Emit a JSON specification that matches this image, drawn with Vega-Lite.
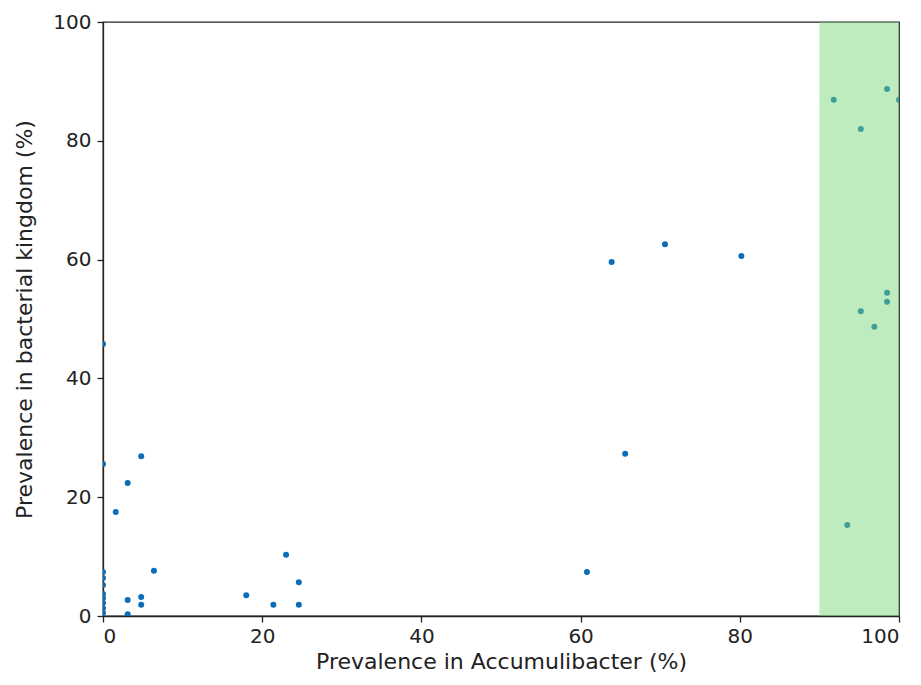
{
  "$schema": "https://vega.github.io/schema/vega-lite/v6.json",
  "width": 796,
  "height": 594,
  "autosize": {"type": "none"},
  "padding": {"left": 103, "top": 22, "right": 22, "bottom": 69},
  "background": "white",
  "config": {
    "view": {"stroke": "#222", "strokeWidth": 1.3},
    "axis": {
      "grid": false,
      "domainColor": "#222",
      "domainWidth": 1.3,
      "tickColor": "#222",
      "tickSize": 6,
      "tickWidth": 1.3,
      "labelFont": "DejaVu Sans",
      "labelFontSize": 20,
      "labelColor": "#222",
      "titleFont": "DejaVu Sans",
      "titleFontSize": 22,
      "titleFontWeight": "normal",
      "titleColor": "#222"
    }
  },
  "datasets": {
    "pts": [
      {"x": 0, "y": 45.8}, {"x": 0, "y": 25.6}, {"x": 4.8, "y": 26.9}, {"x": 3.1, "y": 22.4},
      {"x": 1.6, "y": 17.5}, {"x": 6.4, "y": 7.6},
      {"x": 0, "y": 7.4}, {"x": 0, "y": 6.4}, {"x": 0, "y": 5.2}, {"x": 0, "y": 3.7},
      {"x": 0, "y": 3.0}, {"x": 0, "y": 2.2}, {"x": 0, "y": 1.3}, {"x": 0, "y": 0.5},
      {"x": 3.1, "y": 2.7}, {"x": 4.8, "y": 3.2}, {"x": 4.8, "y": 1.9}, {"x": 3.1, "y": 0.3},
      {"x": 18.0, "y": 3.5}, {"x": 21.4, "y": 1.9}, {"x": 23.0, "y": 10.3},
      {"x": 24.6, "y": 5.7}, {"x": 24.6, "y": 1.9},
      {"x": 60.8, "y": 7.4}, {"x": 65.6, "y": 27.3}, {"x": 63.9, "y": 59.6},
      {"x": 70.6, "y": 62.6}, {"x": 80.2, "y": 60.6},
      {"x": 91.8, "y": 86.9}, {"x": 98.5, "y": 88.7}, {"x": 100, "y": 86.9}, {"x": 95.2, "y": 82.0},
      {"x": 98.5, "y": 54.4}, {"x": 98.5, "y": 52.9}, {"x": 95.2, "y": 51.3}, {"x": 96.9, "y": 48.7},
      {"x": 93.5, "y": 15.3}
    ],
    "band": [{"x0": 90, "x1": 100}]
  },
  "layer": [
    {
      "data": {"name": "pts"},
      "mark": {"type": "circle", "size": 36, "opacity": 1, "color": "#0b6cb8", "clip": true},
      "encoding": {
        "x": {"field": "x", "type": "quantitative", "scale": {"domain": [0, 100], "nice": false, "zero": false},
              "axis": {"values": [0, 20, 40, 60, 80, 100], "title": "Prevalence in Accumulibacter (%)", "labelPadding": 4, "titlePadding": 5}},
        "y": {"field": "y", "type": "quantitative", "scale": {"domain": [0, 100], "nice": false, "zero": false},
              "axis": {"values": [0, 20, 40, 60, 80, 100], "title": "Prevalence in bacterial kingdom (%)", "labelPadding": 6, "titlePadding": 16}}
      }
    },
    {
      "data": {"name": "band"},
      "mark": {"type": "rect", "color": "#78d878", "opacity": 0.48},
      "encoding": {
        "x": {"field": "x0", "type": "quantitative"},
        "x2": {"field": "x1"},
        "y": {"datum": 0, "type": "quantitative"},
        "y2": {"datum": 100}
      }
    }
  ]
}
